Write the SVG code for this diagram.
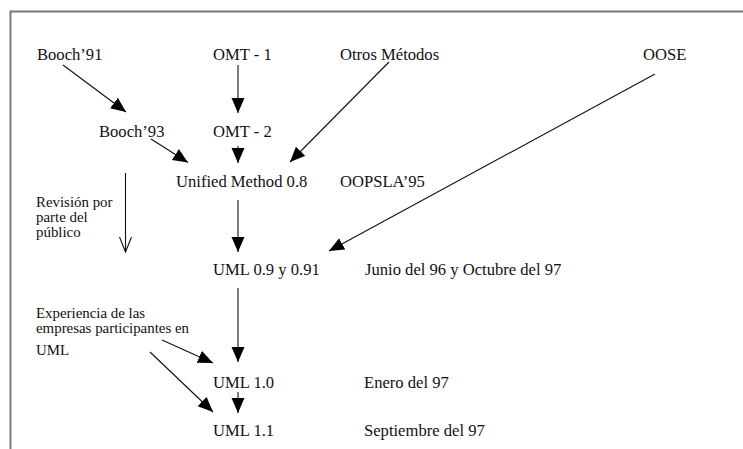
<svg xmlns="http://www.w3.org/2000/svg" width="743" height="449" viewBox="0 0 743 449">
  <style>
    .t { font-family: "Liberation Serif", "Times New Roman", serif; font-size: 16.6px; fill: #111; }
    .s { font-family: "Liberation Serif", "Times New Roman", serif; font-size: 14.9px; fill: #111; }
    .c { stroke: #111; stroke-width: 1.1; fill: none; }
    .frame { stroke: #7a7a7a; stroke-width: 2; fill: none; }
  </style>
  <defs>
    <marker id="solid" markerUnits="userSpaceOnUse" markerWidth="16" markerHeight="14" refX="15" refY="6.5" orient="auto">
      <path d="M0,0 L15,6.5 L0,13 z" fill="#000"/>
    </marker>
    <marker id="open" markerUnits="userSpaceOnUse" markerWidth="16" markerHeight="14" refX="15" refY="6.5" orient="auto">
      <path d="M0,0.5 L15,6.5 L0,12.5" fill="none" stroke="#111" stroke-width="1.1"/>
    </marker>
  </defs>

  <!-- page frame -->
  <path class="frame" d="M10.5,449 V11.5 H743"/>

  <!-- connectors -->
  <g id="connectors">
    <line class="c" x1="63" y1="65" x2="126" y2="112" marker-end="url(#solid)"/>
    <line class="c" x1="238" y1="65" x2="238" y2="113" marker-end="url(#solid)"/>
    <line class="c" x1="151" y1="139" x2="188" y2="162.5" marker-end="url(#solid)"/>
    <line class="c" x1="238" y1="146" x2="238" y2="163" marker-end="url(#solid)"/>
    <line class="c" x1="389" y1="62" x2="290" y2="162" marker-end="url(#solid)"/>
    <line class="c" x1="655" y1="74" x2="329" y2="251" marker-end="url(#solid)"/>
    <line class="c" x1="125.5" y1="173" x2="125.5" y2="252" marker-end="url(#open)"/>
    <line class="c" x1="238" y1="200" x2="238" y2="252" marker-end="url(#solid)"/>
    <line class="c" x1="238" y1="288" x2="238" y2="362" marker-end="url(#solid)"/>
    <line class="c" x1="162" y1="340" x2="213" y2="363" marker-end="url(#solid)"/>
    <line class="c" x1="150" y1="352" x2="213" y2="412" marker-end="url(#solid)"/>
    <line class="c" x1="238" y1="392" x2="238" y2="413" marker-end="url(#solid)"/>
  </g>

  <!-- nodes -->
  <g id="booch91"><text class="t" x="37" y="60">Booch’91</text></g>
  <g id="omt1"><text class="t" x="213" y="60">OMT - 1</text></g>
  <g id="otros"><text class="t" x="340" y="60">Otros Métodos</text></g>
  <g id="oose"><text class="t" x="643" y="60">OOSE</text></g>
  <g id="booch93"><text class="t" x="99" y="137">Booch’93</text></g>
  <g id="omt2"><text class="t" x="213" y="137">OMT - 2</text></g>
  <g id="unified"><text class="t" x="176" y="187">Unified Method 0.8</text></g>
  <g id="oopsla"><text class="t" x="340" y="187">OOPSLA’95</text></g>
  <g id="revision">
    <text class="s" x="36" y="207">Revisión por</text>
    <text class="s" x="36" y="222">parte del</text>
    <text class="s" x="36" y="237">público</text>
  </g>
  <g id="uml09"><text class="t" x="213" y="275">UML 0.9 y 0.91</text></g>
  <g id="date09"><text class="t" x="365" y="275">Junio del 96 y Octubre del 97</text></g>
  <g id="experiencia">
    <text class="s" x="36" y="318">Experiencia de las</text>
    <text class="s" x="36" y="333">empresas participantes en</text>
    <text class="s" x="36" y="355">UML</text>
  </g>
  <g id="uml10"><text class="t" x="213" y="388">UML 1.0</text></g>
  <g id="date10"><text class="t" x="364" y="388">Enero del 97</text></g>
  <g id="uml11"><text class="t" x="213" y="436">UML 1.1</text></g>
  <g id="date11"><text class="t" x="364" y="436">Septiembre del 97</text></g>
</svg>
